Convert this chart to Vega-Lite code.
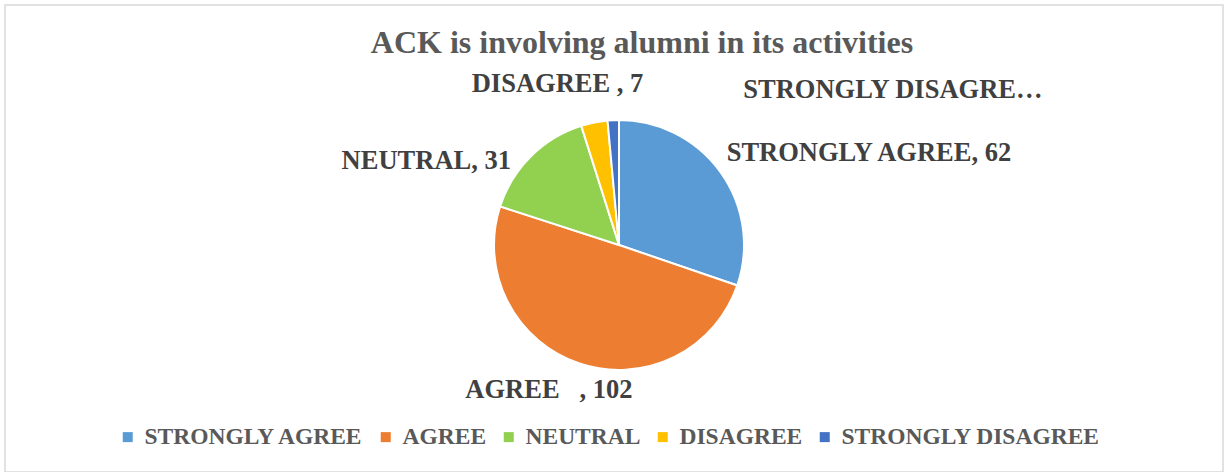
{
  "$schema": "https://vega.github.io/schema/vega-lite/v6.json",
  "width": 1218,
  "height": 467,
  "autosize": "none",
  "padding": {"left": 5, "top": 5, "right": 6, "bottom": 0},
  "background": "white",
  "config": {"view": {"stroke": null}},
  "title": {
    "text": "ACK is involving alumni in its activities",
    "font": "Liberation Serif",
    "fontSize": 32,
    "fontWeight": "bold",
    "color": "#595959",
    "anchor": "middle",
    "baseline": "alphabetic",
    "offset": -81,
    "dx": 28
  },
  "data": {
    "values": [
      {"Category": "STRONGLY AGREE", "Count": 62, "Order": 1, "Label": "STRONGLY AGREE, 62"},
      {"Category": "AGREE", "Count": 102, "Order": 2, "Label": "AGREE\u00a0\u00a0\u00a0, 102"},
      {"Category": "NEUTRAL", "Count": 31, "Order": 3, "Label": "NEUTRAL, 31"},
      {"Category": "DISAGREE", "Count": 7, "Order": 4, "Label": "DISAGREE , 7"},
      {"Category": "STRONGLY DISAGREE", "Count": 3, "Order": 5, "Label": "STRONGLY DISAGRE…"}
    ]
  },
  "layer": [
    {
      "data": {"values": [{"Frame": "chart area"}]},
      "mark": {"type": "rect", "fill": "white", "fillOpacity": 0, "stroke": "#d9d9d9", "strokeWidth": 1.5}
    },
    {
      "mark": {"type": "arc", "outerRadius": 125, "stroke": "white", "strokeWidth": 2, "xOffset": 5, "yOffset": 6.5},
      "encoding": {
        "theta": {"field": "Count", "type": "quantitative", "stack": true},
        "order": {"field": "Order", "type": "quantitative"},
        "color": {
          "field": "Category",
          "type": "nominal",
          "scale": {
            "domain": ["STRONGLY AGREE", "AGREE", "NEUTRAL", "DISAGREE", "STRONGLY DISAGREE"],
            "range": ["#5B9BD5", "#ED7D31", "#92D050", "#FFC000", "#4472C4"]
          },
          "legend": {
            "title": null,
            "orient": "none",
            "direction": "horizontal",
            "legendX": 111,
            "legendY": 420,
            "symbolType": "square",
            "symbolSize": 100,
            "symbolStrokeWidth": 0,
            "labelFont": "Liberation Serif",
            "labelFontSize": 23.5,
            "labelFontWeight": "bold",
            "labelColor": "#595959",
            "labelOffset": 5,
            "columnPadding": 10,
            "labelLimit": 400
          }
        }
      }
    },
    {
      "mark": {"type": "text", "radius": 125, "xOffset": 5, "yOffset": 6.5, "align": "left", "baseline": "alphabetic", "dx": 6, "dy": -11, "font": "Liberation Serif", "fontSize": 26.5, "fontWeight": "bold", "color": "#404040"},
      "encoding": {
        "theta": {"field": "Count", "type": "quantitative", "stack": true},
        "order": {"field": "Order", "type": "quantitative"},
        "text": {"condition": {"test": "datum.Order === 1", "field": "Label"}, "value": ""}
      }
    },
    {
      "mark": {"type": "text", "radius": 125, "xOffset": 5, "yOffset": 6.5, "align": "right", "baseline": "alphabetic", "dx": 53, "dy": 34, "font": "Liberation Serif", "fontSize": 26.5, "fontWeight": "bold", "color": "#404040"},
      "encoding": {
        "theta": {"field": "Count", "type": "quantitative", "stack": true},
        "order": {"field": "Order", "type": "quantitative"},
        "text": {"condition": {"test": "datum.Order === 2", "field": "Label"}, "value": ""}
      }
    },
    {
      "mark": {"type": "text", "radius": 125, "xOffset": 5, "yOffset": 6.5, "align": "right", "baseline": "alphabetic", "dx": -20, "dy": 13, "font": "Liberation Serif", "fontSize": 26.5, "fontWeight": "bold", "color": "#404040"},
      "encoding": {
        "theta": {"field": "Count", "type": "quantitative", "stack": true},
        "order": {"field": "Order", "type": "quantitative"},
        "text": {"condition": {"test": "datum.Order === 3", "field": "Label"}, "value": ""}
      }
    },
    {
      "mark": {"type": "text", "radius": 125, "xOffset": 5, "yOffset": 6.5, "align": "right", "baseline": "alphabetic", "dx": 49, "dy": -30, "font": "Liberation Serif", "fontSize": 26.5, "fontWeight": "bold", "color": "#404040"},
      "encoding": {
        "theta": {"field": "Count", "type": "quantitative", "stack": true},
        "order": {"field": "Order", "type": "quantitative"},
        "text": {"condition": {"test": "datum.Order === 4", "field": "Label"}, "value": ""}
      }
    },
    {
      "mark": {"type": "text", "radius": 125, "xOffset": 5, "yOffset": 6.5, "align": "left", "baseline": "alphabetic", "dx": 130, "dy": -22, "font": "Liberation Serif", "fontSize": 26.5, "fontWeight": "bold", "color": "#404040"},
      "encoding": {
        "theta": {"field": "Count", "type": "quantitative", "stack": true},
        "order": {"field": "Order", "type": "quantitative"},
        "text": {"condition": {"test": "datum.Order === 5", "field": "Label"}, "value": ""}
      }
    }
  ]
}
